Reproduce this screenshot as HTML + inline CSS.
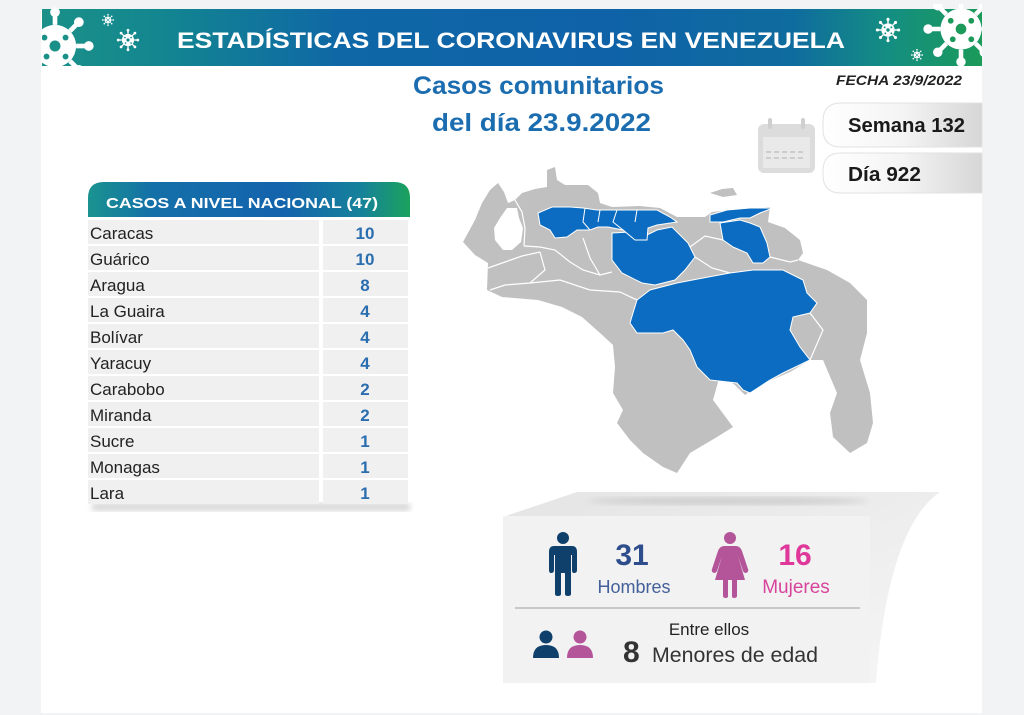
<!DOCTYPE html>
<html><head><meta charset="utf-8"><style>
html,body{margin:0;padding:0;background:#f1f3f4;}
svg{display:block;font-family:"Liberation Sans",sans-serif;}
</style></head><body>
<svg width="1024" height="715" viewBox="0 0 1024 715" xmlns="http://www.w3.org/2000/svg">
<defs>
<linearGradient id="bg" x1="0" x2="1" y1="0" y2="0">
<stop offset="0" stop-color="#1a9088"/>
<stop offset="0.12" stop-color="#13878f"/>
<stop offset="0.32" stop-color="#0f67a6"/>
<stop offset="0.6" stop-color="#0f62a8"/>
<stop offset="0.8" stop-color="#0f6c9e"/>
<stop offset="0.9" stop-color="#148e82"/>
<stop offset="1" stop-color="#1b9a5a"/>
</linearGradient>
<linearGradient id="hg" x1="0" x2="1" y1="0" y2="0">
<stop offset="0" stop-color="#1a9390"/>
<stop offset="0.2" stop-color="#1470a8"/>
<stop offset="0.6" stop-color="#1463ad"/>
<stop offset="0.85" stop-color="#16829a"/>
<stop offset="1" stop-color="#1ba25c"/>
</linearGradient>
<linearGradient id="pg" x1="0" x2="1" y1="0" y2="0">
<stop offset="0" stop-color="#ffffff"/>
<stop offset="0.5" stop-color="#f4f4f4"/>
<stop offset="1" stop-color="#d6d6d6"/>
</linearGradient>
<linearGradient id="lid" x1="0" x2="1" y1="0" y2="1">
<stop offset="0" stop-color="#e4e4e4"/>
<stop offset="1" stop-color="#f6f6f6"/>
</linearGradient>
<filter id="blur"><feGaussianBlur stdDeviation="3"/></filter>
<clipPath id="bclip"><rect x="42" y="4" width="940" height="62"/></clipPath>
<symbol id="v" viewBox="-18 -18 36 36" overflow="visible">
<g stroke="#fff" stroke-width="2.2" fill="#fff">
<line x1="10" y1="0" x2="15" y2="0"/><line x1="7.07" y1="7.07" x2="10.6" y2="10.6"/>
<line x1="0" y1="10" x2="0" y2="15"/><line x1="-7.07" y1="7.07" x2="-10.6" y2="10.6"/>
<line x1="-10" y1="0" x2="-15" y2="0"/><line x1="-7.07" y1="-7.07" x2="-10.6" y2="-10.6"/>
<line x1="0" y1="-10" x2="0" y2="-15"/><line x1="7.07" y1="-7.07" x2="10.6" y2="-10.6"/>
</g>
<g fill="#fff">
<circle r="10"/>
<circle cx="16" cy="0" r="2.3"/><circle cx="11.3" cy="11.3" r="2.3"/><circle cx="0" cy="16" r="2.3"/><circle cx="-11.3" cy="11.3" r="2.3"/>
<circle cx="-16" cy="0" r="2.3"/><circle cx="-11.3" cy="-11.3" r="2.3"/><circle cx="0" cy="-16" r="2.3"/><circle cx="11.3" cy="-11.3" r="2.3"/>
</g>
<g fill="currentColor">
<circle cx="0" cy="0" r="2.6"/><circle cx="-5" cy="-4" r="1.4"/><circle cx="5" cy="-4" r="1.4"/><circle cx="-4" cy="5" r="1.4"/><circle cx="5" cy="5" r="1.4"/>
</g>
</symbol>
</defs>

<rect width="1024" height="715" fill="#f1f3f4"/>
<rect x="41" y="9" width="941" height="704" fill="#ffffff"/>

<!-- Banner -->
<rect x="42" y="9" width="940" height="57" fill="url(#bg)"/>
<g clip-path="url(#bclip)">
<use href="#v" x="17" y="8" width="76" height="76" style="color:#1a9088"/>
<use href="#v" x="117" y="29" width="22" height="22" style="color:#13878f"/>
<use href="#v" x="102" y="14" width="12" height="12" style="color:#13878f"/>
<use href="#v" x="876" y="18" width="24" height="24" style="color:#148e82"/>
<use href="#v" x="911" y="49" width="12" height="12" style="color:#148e82"/>
<use href="#v" x="924" y="-8" width="74" height="74" style="color:#1b9a5a"/>
</g>
<text x="177" y="48" font-size="22" font-weight="bold" fill="#ffffff" textLength="668" lengthAdjust="spacingAndGlyphs">ESTADÍSTICAS DEL CORONAVIRUS EN VENEZUELA</text>

<!-- Titles -->
<text x="413" y="94" font-size="25" font-weight="bold" fill="#1b6db0" textLength="251" lengthAdjust="spacingAndGlyphs">Casos comunitarios</text>
<text x="432" y="131" font-size="25" font-weight="bold" fill="#1b6db0" textLength="219" lengthAdjust="spacingAndGlyphs">del día 23.9.2022</text>
<text x="836" y="85" font-size="14" font-weight="bold" font-style="italic" fill="#222" textLength="126" lengthAdjust="spacingAndGlyphs">FECHA 23/9/2022</text>

<!-- Calendar icon -->
<rect x="758" y="124" width="57" height="49" rx="6" fill="#dcdcdc"/>
<rect x="763" y="137" width="47" height="31" fill="#e9e9e9"/>
<rect x="768" y="118" width="4" height="11" rx="2" fill="#cfcfcf"/>
<rect x="801" y="118" width="4" height="11" rx="2" fill="#cfcfcf"/>
<g fill="#cdcdcd">
<rect x="766" y="151" width="5" height="2"/><rect x="774" y="151" width="5" height="2"/><rect x="782" y="151" width="5" height="2"/><rect x="790" y="151" width="5" height="2"/><rect x="798" y="151" width="5" height="2"/>
<rect x="766" y="157" width="5" height="2"/><rect x="774" y="157" width="5" height="2"/><rect x="782" y="157" width="5" height="2"/><rect x="790" y="157" width="5" height="2"/><rect x="798" y="157" width="5" height="2"/>
</g>

<!-- Pills -->
<path d="M841,103 H982 V147 H841 Q823,147 823,129 V121 Q823,103 841,103 Z" fill="url(#pg)" stroke="#e2e2e2" stroke-width="1"/>
<path d="M841,153 H982 V193 H841 Q823,193 823,175 V171 Q823,153 841,153 Z" fill="url(#pg)" stroke="#e2e2e2" stroke-width="1"/>
<text x="848" y="132" font-size="20" font-weight="bold" fill="#1a1a1a" textLength="117" lengthAdjust="spacingAndGlyphs">Semana 132</text>
<text x="848" y="181" font-size="20" font-weight="bold" fill="#1a1a1a" textLength="73" lengthAdjust="spacingAndGlyphs">Día 922</text>

<!-- Table -->
<rect x="92" y="503" width="318" height="8" fill="#d8d8d8" filter="url(#blur)"/>
<path d="M88,217 V198 Q88,182 104,182 H394 Q410,182 410,198 V217 Z" fill="url(#hg)"/>
<text x="106" y="208" font-size="15" font-weight="bold" fill="#ffffff" textLength="272" lengthAdjust="spacingAndGlyphs">CASOS A NIVEL NACIONAL  (47)</text>
<g fill="#f0f0f0">
<rect x="88" y="220" width="231" height="24"/><rect x="323" y="220" width="85" height="24"/>
<rect x="88" y="246" width="231" height="24"/><rect x="323" y="246" width="85" height="24"/>
<rect x="88" y="272" width="231" height="24"/><rect x="323" y="272" width="85" height="24"/>
<rect x="88" y="298" width="231" height="24"/><rect x="323" y="298" width="85" height="24"/>
<rect x="88" y="324" width="231" height="24"/><rect x="323" y="324" width="85" height="24"/>
<rect x="88" y="350" width="231" height="24"/><rect x="323" y="350" width="85" height="24"/>
<rect x="88" y="376" width="231" height="24"/><rect x="323" y="376" width="85" height="24"/>
<rect x="88" y="402" width="231" height="24"/><rect x="323" y="402" width="85" height="24"/>
<rect x="88" y="428" width="231" height="24"/><rect x="323" y="428" width="85" height="24"/>
<rect x="88" y="454" width="231" height="24"/><rect x="323" y="454" width="85" height="24"/>
<rect x="88" y="480" width="231" height="24"/><rect x="323" y="480" width="85" height="24"/>
</g>
<g font-size="17" fill="#222">
<text x="90" y="239">Caracas</text>
<text x="90" y="265">Guárico</text>
<text x="90" y="291">Aragua</text>
<text x="90" y="317">La Guaira</text>
<text x="90" y="343">Bolívar</text>
<text x="90" y="369">Yaracuy</text>
<text x="90" y="395">Carabobo</text>
<text x="90" y="421">Miranda</text>
<text x="90" y="447">Sucre</text>
<text x="90" y="473">Monagas</text>
<text x="90" y="499">Lara</text>
</g>
<g font-size="17" font-weight="bold" fill="#2a6eb0" text-anchor="middle">
<text x="365" y="239">10</text>
<text x="365" y="265">10</text>
<text x="365" y="291">8</text>
<text x="365" y="317">4</text>
<text x="365" y="343">4</text>
<text x="365" y="369">4</text>
<text x="365" y="395">2</text>
<text x="365" y="421">2</text>
<text x="365" y="447">1</text>
<text x="365" y="473">1</text>
<text x="365" y="499">1</text>
</g>

<!-- Map -->
<g fill="#c0c0c0">
<path d="M463,242 L475,220 L482,203 L490,190 L498,183 L504,192 L508,203 L515,200 L522,193 L535,189 L547,187 L547,170 L555,167 L557,180 L565,185 L588,185 L598,193 L600,203 L612,207 L640,206 L660,208 L677,217 L705,217 L712,212 L730,210 L770,207 L768,222 L785,228 L800,240 L803,253 L798,260 L827,270 L850,283 L867,300 L867,333 L860,360 L870,393 L873,423 L867,443 L850,453 L833,437 L830,413 L837,393 L823,360 L810,360 L790,372 L760,385 L745,395 L735,385 L720,375 L713,400 L733,427 L717,437 L690,453 L677,473 L663,467 L643,453 L630,440 L617,423 L623,410 L613,393 L615,367 L613,345 L600,333 L582,317 L562,307 L538,300 L502,297 L487,290 L488,263 L475,255 Z"/>
<path d="M710,193 L722,189 L733,188 L737,195 L723,197 Z"/>
</g>
<path d="M507,208 L517,208 L519,218 L523,228 L521,242 L512,250 L503,250 L495,240 L494,228 L500,218 Z" fill="#ffffff"/>
<g fill="none" stroke="#ffffff" stroke-width="1.2">
<path d="M515,200 L522,212 L525,228 L524,246"/>
<path d="M488,268 L505,262 L522,256 L540,252"/>
<path d="M524,246 L540,247 L555,250 L570,262 L583,270 L600,275 L612,272"/>
<path d="M490,290 L505,285 L530,283 L560,280 L590,290 L620,292 L637,300"/>
<path d="M583,238 L590,258 L600,275"/>
<path d="M540,252 L545,270 L530,283"/>
<path d="M695,257 L712,268 L730,273"/>
<path d="M723,240 L705,236 L690,247"/>
<path d="M770,257 L790,262 L798,260"/>
<path d="M810,360 L823,330 L810,313"/>
</g>
<g fill="#0b6cc2" stroke="#ffffff" stroke-width="1">
<path d="M637,300 L650,290 L677,283 L703,278 L730,273 L753,270 L783,270 L803,280 L807,293 L817,303 L810,313 L793,317 L790,330 L800,347 L810,360 L783,373 L770,380 L750,393 L743,390 L737,383 L710,380 L697,367 L690,350 L683,340 L673,330 L663,333 L637,333 L630,323 L633,313 Z"/>
<path d="M612,233 L630,232 L643,237 L657,230 L672,227 L688,243 L695,257 L685,270 L675,280 L655,285 L642,283 L622,273 L612,260 Z"/>
<path d="M720,223 L740,220 L750,223 L760,227 L767,243 L770,257 L763,263 L753,263 L747,253 L733,247 L723,240 Z"/>
<path d="M710,215 L727,210 L750,208 L773,208 L760,213 L750,218 L740,218 L723,222 L710,222 Z"/>
<path d="M538,213 L552,207 L570,207 L583,208 L597,210 L617,210 L637,210 L657,210 L670,217 L677,222 L657,225 L648,228 L647,240 L635,240 L623,230 L608,227 L598,227 L590,230 L577,230 L567,237 L555,238 L550,230 L540,225 Z"/>
</g>
<g fill="none" stroke="#ffffff" stroke-width="1">
<path d="M585,208 L583,222 L590,230"/>
<path d="M600,210 L598,222"/>
<path d="M617,210 L613,222 L623,230"/>
<path d="M637,210 L635,222"/>
</g>

<!-- Stats box -->
<path d="M503,517 L577,492 L940,492 Q888,528 876,683 L503,683 Z" fill="url(#lid)"/>
<ellipse cx="728" cy="501" rx="140" ry="4" fill="#cfcfcf" filter="url(#blur)"/>
<rect x="503" y="516" width="367" height="167" fill="#f2f2f2"/>

<!-- man -->
<g fill="#0f3f6b">
<circle cx="563" cy="538" r="6"/>
<path d="M554,546 H572 Q577,546 577,552 V570 Q577,573 574,573 Q572,573 572,570 V555 H571 V594 Q571,596 568,596 Q565,596 565,594 V573 H561 V594 Q561,596 558,596 Q555,596 555,594 V555 H554 V570 Q554,573 551,573 Q549,573 549,570 V552 Q549,546 554,546 Z"/>
</g>
<text x="632" y="565" font-size="30" font-weight="bold" fill="#2e4d8c" text-anchor="middle">31</text>
<text x="634" y="593" font-size="18" fill="#44609a" text-anchor="middle">Hombres</text>

<!-- woman -->
<g fill="#b4559a">
<circle cx="730" cy="538" r="6"/>
<path d="M724,546 H736 Q740,546 742,551 L748,569 Q749,572 746,573 Q744,573 743,571 L738,556 L745,580 H737 V596 Q737,598 734,598 Q732,598 732,596 V580 H728 V596 Q728,598 726,598 Q723,598 723,596 V580 H715 L722,556 L717,571 Q716,573 714,573 Q711,572 712,569 L718,551 Q720,546 724,546 Z"/>
</g>
<text x="795" y="565" font-size="30" font-weight="bold" fill="#e0379b" text-anchor="middle">16</text>
<text x="796" y="593" font-size="19" fill="#d7449c" text-anchor="middle">Mujeres</text>

<rect x="515" y="607" width="345" height="2" fill="#c8c8c8"/>

<!-- small persons -->
<g fill="#0f3f6b">
<circle cx="546" cy="637" r="6.5"/>
<path d="M533,658 Q533,645 546,645 Q559,645 559,658 Z"/>
</g>
<g fill="#b4559a">
<circle cx="580" cy="637" r="6.5"/>
<path d="M567,658 Q567,645 580,645 Q593,645 593,658 Z"/>
</g>
<text x="709" y="635" font-size="17" fill="#222" text-anchor="middle">Entre ellos</text>
<text x="623" y="662" font-size="30" font-weight="bold" fill="#333">8</text>
<text x="652" y="662" font-size="21" fill="#333" textLength="166" lengthAdjust="spacingAndGlyphs">Menores de edad</text>
</svg>
</body></html>
